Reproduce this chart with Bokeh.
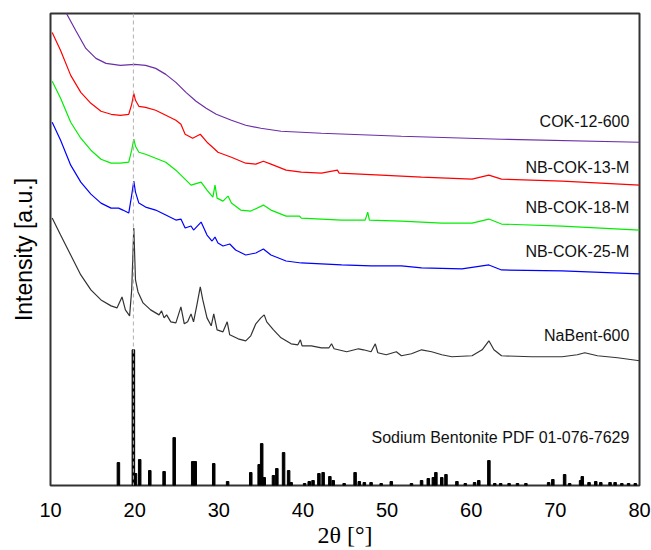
from bokeh.plotting import figure
from bokeh.models import FixedTicker, Span, Label
from bokeh.embed import file_html
from bokeh.resources import INLINE

# ---- data (2theta in degrees, intensity in arbitrary units) ----
cok12_x = [11.9, 13.0, 14.2, 15.4, 16.6, 18.3, 20.0, 21.3, 22.5, 23.7, 24.9, 26.1, 27.3, 28.5, 29.7,
           31.5, 33.2, 35.0, 37.4, 39.8, 42.2, 51.7, 63.6, 80.0]
cok12_y = [473, 456, 438, 428, 423, 421, 422, 421, 418, 412, 404, 394, 385, 378, 372,
           366, 361, 358, 355, 354, 353, 350, 347, 344]

nb13_x = [10.2, 11.2, 12.4, 13.6, 14.8, 16.0, 17.2, 18.3, 19.3, 19.65, 19.9, 20.1, 20.5, 21.3, 22.5,
          23.7, 24.9, 25.5, 26.0, 26.9, 27.8, 28.6, 29.4, 29.9, 31.5, 33.2, 34.4, 35.3, 36.2, 38.0,
          39.8, 42.2, 44.1, 44.3, 49.3, 54.1, 60.1, 62.1, 63.6, 70.8, 80.0]
nb13_y = [454, 436, 411, 394, 383, 375, 372, 371, 372, 382, 393, 386, 380, 379, 376,
          371, 366, 362, 352, 348, 352, 344, 338, 334, 329, 323, 322, 325, 322, 316,
          314, 313, 316, 313, 311, 309, 307, 311, 307, 305, 301]

nb18_x = [10.2, 11.2, 12.4, 13.6, 14.8, 16.0, 17.2, 18.3, 19.3, 19.65, 19.9, 20.1, 20.5, 21.3, 22.5,
          23.7, 24.9, 25.5, 26.7, 27.9, 28.6, 29.3, 29.55, 29.8, 30.5, 31.1, 31.5, 32.6, 33.8, 35.3,
          36.2, 38.0, 39.6, 39.8, 42.2, 44.6, 47.4, 47.7, 47.9, 51.7, 54.1, 56.5, 60.1, 62.1, 63.6,
          70.8, 80.0]
nb18_y = [405, 388, 364, 348, 336, 327, 323, 323, 324, 336, 347, 340, 334, 332, 328,
          324, 316, 311, 301, 304, 296, 289, 301, 288, 285, 290, 283, 276, 275, 281,
          276, 270, 270, 268, 267, 266, 266, 274, 266, 265, 264, 263, 263, 267, 262,
          260, 256]

nb25_x = [10.2, 11.2, 12.4, 13.6, 14.8, 16.0, 17.2, 18.1, 18.6, 19.3, 19.65, 19.9, 20.1, 20.5, 21.3,
          22.5, 23.7, 24.9, 25.5, 26.0, 26.7, 27.0, 27.9, 28.6, 29.2, 29.55, 29.9, 30.5, 31.3, 32.0,
          33.2, 34.4, 35.3, 36.2, 38.0, 39.8, 42.2, 44.6, 48.1, 51.7, 54.1, 58.9, 62.1, 63.6, 70.8,
          80.0]
nb25_y = [364, 346, 321, 304, 292, 283, 278, 278, 276, 273, 291, 305, 294, 283, 279,
          276, 271, 266, 267, 258, 260, 256, 264, 251, 245, 249, 243, 240, 242, 236,
          231, 233, 237, 231, 225, 223, 222, 221, 220, 220, 218, 217, 221, 216, 215,
          212]

nabent_x = [10.2, 11.2, 12.4, 13.6, 14.8, 16.0, 17.2, 17.9, 18.5, 18.9, 19.4, 19.65, 19.9, 20.1, 20.4,
            21.0, 21.9, 22.9, 23.2, 23.5, 23.8, 24.3, 24.9, 25.5, 25.9, 26.3, 26.7, 27.0, 27.4, 27.8,
            28.1, 28.6, 29.1, 29.4, 29.8, 30.5, 31.0, 31.3, 32.3, 33.2, 33.8, 34.4, 35.0, 35.4, 35.7,
            36.5, 37.4, 38.6, 39.4, 39.7, 39.9, 41.0, 42.2, 43.1, 43.4, 43.7, 45.2, 46.6, 47.2, 48.1,
            48.6, 48.9, 49.9, 51.1, 51.7, 52.9, 54.1, 55.3, 56.5, 57.7, 60.1, 61.3, 62.1, 62.7, 63.6,
            67.2, 70.8, 72.6, 73.5, 75.0, 77.4, 80.0]
nabent_y = [268, 251, 231, 211, 196, 186, 180, 178, 189, 176, 170, 196, 258, 206, 194,
            183, 176, 171, 175, 168, 171, 164, 163, 179, 162, 164, 172, 164, 181, 199,
            186, 168, 160, 172, 156, 154, 164, 151, 147, 145, 150, 162, 168, 171, 164,
            156, 148, 142, 141, 146, 140, 140, 138, 138, 142, 137, 134, 137, 136, 134,
            142, 133, 131, 134, 130, 132, 136, 134, 131, 129, 130, 136, 145, 136, 130,
            129, 129, 131, 133, 130, 128, 125]

ref_x = [18.07, 19.85, 20.1, 20.6, 21.8, 23.5, 24.7, 26.9, 27.2, 29.4, 31.05, 33.8, 34.8, 35.1, 35.4,
         36.5, 36.9, 37.7, 38.3, 38.6, 40.2, 40.75, 41.2, 41.9, 42.4, 43.2, 43.6, 44.9, 46.2, 46.7,
         47.3, 48.1, 49.3, 50.5, 52.9, 54.1, 54.9, 55.5, 55.8, 56.5, 57.0, 58.3, 59.3, 60.4, 60.9,
         62.1, 62.8, 63.5, 64.5, 65.5, 66.5, 69.2, 69.7, 71.1, 71.7, 73.0, 73.2, 74.0, 74.8, 75.4,
         76.5, 77.1, 77.9, 78.7, 79.5]
ref_h = [23, 136, 12, 26, 15, 14, 48, 24, 24, 22, 4, 13, 21, 42, 8,
         10, 17, 33, 15, 3, 2, 4, 5, 12, 13, 9, 5, 2, 13, 4,
         3, 3, 2, 4, 2, 5, 7, 8, 13, 8, 11, 4, 2, 3, 5,
         25, 2, 2, 2, 2, 2, 3, 6, 11, 2, 5, 9, 3, 4, 3,
         3, 3, 2, 2, 2]

labels = ["COK-12-600", "NB-COK-13-M", "NB-COK-18-M", "NB-COK-25-M", "NaBent-600",
          "Sodium Bentonite PDF 01-076-7629"]
label_y = [365, 319, 279, 234, 150, 48]
x_ticks = [10, 20, 30, 40, 50, 60, 70, 80]
ref_line_x = 19.85

# ---- figure ----
p = figure(width=651, height=550, x_range=(10, 80), y_range=(0, 473),
           output_backend="svg", toolbar_location=None,
           min_border_left=50, min_border_right=12, min_border_top=13, min_border_bottom=64)
p.grid.visible = False
p.background_fill_color = "white"
p.outline_line_color = "#333333"
p.outline_line_width = 2

p.xaxis.ticker = FixedTicker(ticks=x_ticks)
p.xaxis.major_tick_line_color = None
p.xaxis.minor_tick_line_color = None
p.xaxis.axis_line_color = None
p.xaxis.major_label_text_font = "Liberation Sans"
p.xaxis.major_label_text_font_size = "20px"
p.xaxis.major_label_text_color = "black"
p.xaxis.major_label_standoff = 11
p.xaxis.axis_label = "2θ [°]"
p.xaxis.axis_label_text_font = "Liberation Serif"
p.xaxis.axis_label_text_font_size = "24px"
p.xaxis.axis_label_text_font_style = "normal"
p.xaxis.axis_label_text_color = "black"
p.xaxis.axis_label_standoff = 2

p.yaxis.ticker = FixedTicker(ticks=[])
p.yaxis.major_tick_line_color = None
p.yaxis.minor_tick_line_color = None
p.yaxis.axis_line_color = None
p.yaxis.axis_label = "Intensity [a.u.]"
p.yaxis.axis_label_text_font = "Liberation Sans"
p.yaxis.axis_label_text_font_size = "23px"
p.yaxis.axis_label_text_font_style = "normal"
p.yaxis.axis_label_text_color = "black"
p.yaxis.axis_label_standoff = 14

p.add_layout(Span(location=ref_line_x, dimension="height", line_color="#b0b0b0",
                  line_dash="4 3", line_width=1))

p.vbar(x=ref_x, top=ref_h, bottom=0, width=0.3, color="black")

lw = 1.2
p.line(nabent_x, nabent_y, line_color="#333333", line_width=lw)
p.line(nb25_x, nb25_y, line_color="#0000ff", line_width=lw)
p.line(nb18_x, nb18_y, line_color="#00ee00", line_width=lw)
p.line(nb13_x, nb13_y, line_color="#ff0000", line_width=lw)
p.line(cok12_x, cok12_y, line_color="#6a2ea8", line_width=lw)

for t, yy in zip(labels, label_y):
    p.add_layout(Label(x=78.8, y=yy, text=t, text_align="right", text_baseline="middle",
                       text_font="Liberation Sans", text_font_size="16px", text_color="#111111"))

open("out.html", "w").write(file_html(p, INLINE))
